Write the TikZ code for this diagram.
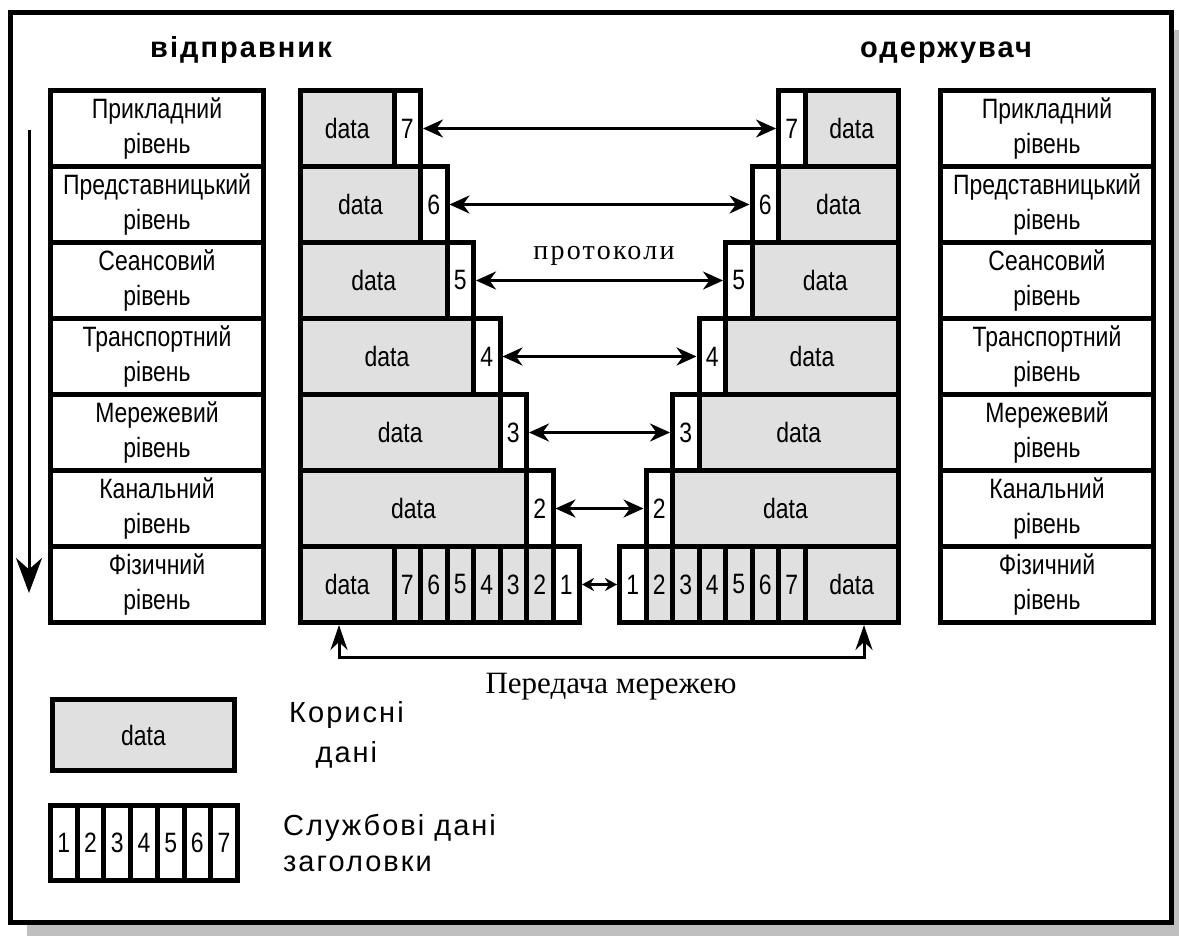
\documentclass[tikz,border=0pt]{standalone}
\usepackage{fontspec}
\setmainfont{Liberation Sans}
\newfontfamily\narrowfont[FakeStretch=0.82]{Liberation Sans}
\newfontfamily\spacedfont[LetterSpace=7]{Liberation Sans}
\newfontfamily\protofont[LetterSpace=8]{Liberation Serif}
\newfontfamily\netfont{Liberation Serif}
\usetikzlibrary{arrows.meta,positioning}

\newcommand\layerfont{\narrowfont\fontsize{28}{35}\selectfont}
\definecolor{datagray}{gray}{0.88}
\definecolor{shadowgray}{gray}{0.75}

\tikzset{
  layerbox/.style={draw, line width=5pt, minimum width=213pt, minimum height=76pt,
    inner sep=0pt, align=center, font=\layerfont},
  datacell/.style={draw, fill=datagray, line width=5pt, minimum height=76pt,
    inner sep=0pt, font=\layerfont},
  hdrcell/.style={draw, fill=white, line width=5pt, minimum height=76pt,
    inner sep=0pt, font=\layerfont},
  title/.style={anchor=base, font={\spacedfont\fontsize{29}{34}\selectfont\bfseries}},
  proto/.style={<->, line width=3pt},
  flow/.style={-{Stealth[length=35pt,width=26pt]}, line width=3pt},
  net/.style={{Stealth[length=25pt,width=17pt]}-{Stealth[length=25pt,width=17pt]}, line width=3pt},
  keytext/.style={inner sep=0pt, font={\spacedfont\fontsize{29}{40}\selectfont}},
}

\begin{document}
\begin{tikzpicture}[x=1pt, y=-1pt, >={Stealth[length=20pt,width=18pt]}]
  % ==== DEFINITIONS ====
  \def\rowH{76}      % height of one layer row
  \def\topY{90.5}    % top of the stacks
  \def\hdrW{26.5}    % width of one header cell
  \def\dataX{300.5}  % left edge of the sender data
  \def\splitX{394}   % first data/header boundary
  \def\mirror{1199}  % receiver is the mirror image of the sender

  % ==== FRAME WITH SHADOW ====
  \useasboundingbox (0,0) rectangle (1179,936);
  \clip (0,0) rectangle (1179,936);
  \fill[shadowgray] (27,30) rectangle (1195,950);
  \draw[line width=5pt, fill=white] (10.5,12.5) rectangle (1171.5,922.5);

  % ==== TITLES ====
  \node[title] (sender) at (241,58) {відправник};
  \node[title] (receiver) at (946,58) {одержувач};

  % ==== OSI LAYERS ====
  \foreach \L/\name [count=\i from 0] in {7/Прикладний, 6/Представницький,
      5/Сеансовий, 4/Транспортний, 3/Мережевий, 2/Канальний, 1/Фізичний} {
    \node[layerbox] (sl\L) at (157, {\topY+\rowH/2+\i*\rowH}) {\name\\рівень};
    \node[layerbox] (rl\L) at (1047, {\topY+\rowH/2+\i*\rowH}) {\name\\рівень};
  }

  % ==== DIRECTION ARROW ====
  \coordinate (flowtop) at (29,130);
  \coordinate (flowbot) at (29,593);
  \draw[flow] (flowtop) -- (flowbot);

  % ==== ENCAPSULATION, LAYERS 7 TO 2 ====
  \foreach \L in {7,...,2} {
    \pgfmathsetmacro\yc{\topY+\rowH/2+(7-\L)*\rowH}
    \pgfmathsetmacro\xa{\splitX+(7-\L)*\hdrW}
    \node[datacell, minimum width={\xa-\dataX}] (sd\L) at ({(\dataX+\xa)/2},\yc) {data};
    \node[hdrcell, minimum width=\hdrW] (sh\L) at ({\xa+\hdrW/2},\yc) {\L};
    \node[datacell, minimum width={\xa-\dataX}] (rd\L) at ({\mirror-(\dataX+\xa)/2},\yc) {data};
    \node[hdrcell, minimum width=\hdrW] (rh\L) at ({\mirror-\xa-\hdrW/2},\yc) {\L};
    \draw[proto] (sh\L) -- (rh\L);
  }

  % ==== PHYSICAL LAYER ====
  \pgfmathsetmacro\yc{\topY+\rowH/2+6*\rowH}
  \node[datacell, minimum width={\splitX-\dataX}] (sd1) at ({(\dataX+\splitX)/2},\yc) {data};
  \node[datacell, minimum width={\splitX-\dataX}] (rd1) at ({\mirror-(\dataX+\splitX)/2},\yc) {data};
  \foreach \j [count=\k from 0] in {7,...,2} {
    \node[datacell, minimum width=\hdrW] (sp\j) at ({\splitX+(\k+0.5)*\hdrW},\yc) {\j};
    \node[datacell, minimum width=\hdrW] (rp\j) at ({\mirror-\splitX-(\k+0.5)*\hdrW},\yc) {\j};
  }
  \node[hdrcell, minimum width=\hdrW] (sp1) at ({\splitX+6.5*\hdrW},\yc) {1};
  \node[hdrcell, minimum width=\hdrW] (rp1) at ({\mirror-\splitX-6.5*\hdrW},\yc) {1};
  \draw[proto, >={Stealth[length=12pt,width=13pt]}] (sp1) -- (rp1);

  % ==== LABELS ====
  \node[anchor=base, font={\protofont\fontsize{28}{32}\selectfont}] (protocols) at (604,260) {протоколи};

  % ==== TRANSMISSION ====
  \coordinate (netL) at (339,657);
  \coordinate (netR) at (864,657);
  \draw[net] (netL |- sd1.south) -- (netL) -- (netR) -- (netR |- rd1.south);
  \node[anchor=base, font={\netfont\fontsize{31}{36}\selectfont}] (network) at (611,693) {Передача мережею};

  % ==== LEGEND ====
  \node[datacell, minimum width=182pt, minimum height=71pt] (keydata) at (143.5,735) {data};
  \node[keytext, align=center, right=52pt of keydata] (keydatatext) {Корисні\\дані};
  \foreach \j in {1,...,7}
    \node[hdrcell, minimum width=26.7pt, minimum height=75pt] (key\j) at ({50.5+(\j-0.5)*26.7},843) {\j};
  \node[keytext, align=left, font={\spacedfont\fontsize{29}{36}\selectfont}, right=43pt of key7] (keyhdrtext) {Службові дані\\заголовки};
\end{tikzpicture}
\end{document}
